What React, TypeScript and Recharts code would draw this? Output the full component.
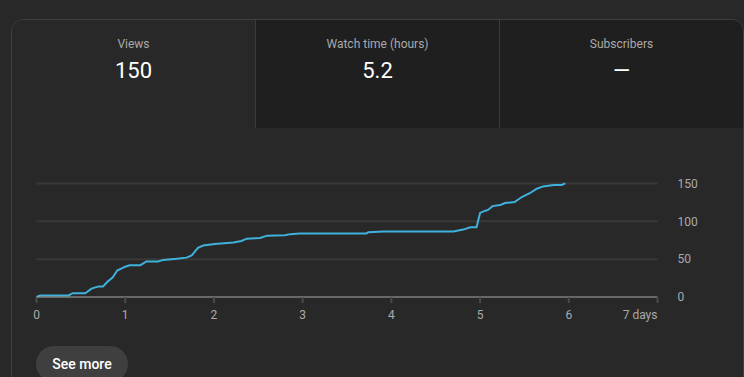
import { LineChart, Line, XAxis, YAxis, CartesianGrid } from "recharts";

// cumulative views (x in days since publish)
const days = [
  0, 0.04, 0.36, 0.41, 0.55, 0.62, 0.7, 0.75, 0.8, 0.86, 0.91, 1.0, 1.05, 1.17,
  1.24, 1.37, 1.43, 1.58, 1.69, 1.75, 1.82, 1.88, 2.01, 2.22, 2.31, 2.37, 2.52,
  2.6, 2.8, 2.86, 2.97, 3.72, 3.74, 3.91, 4.7, 4.81, 4.89, 4.96, 5.0, 5.06, 5.09,
  5.14, 5.23, 5.28, 5.39, 5.47, 5.56, 5.64, 5.71, 5.83, 5.92, 5.96,
];
const views = [
  0, 2, 2, 5, 5, 11, 14, 14, 20, 26, 35, 40, 42, 42,
  47, 47, 49, 50.5, 52, 55, 65, 68, 70, 72, 74, 77, 78,
  81, 81.5, 83, 84, 84, 85.5, 86.5, 86.5, 89, 92, 92, 111, 114, 115,
  120, 121.5, 124, 125.5, 132, 137, 143, 146, 148, 148, 150,
];
const xTicks = [0, 1, 2, 3, 4, 5, 6, 7];
const yTicks = [0, 50, 100, 150];

const metricLabels = ["Views", "Watch time (hours)", "Subscribers"];
const metricValues = ["150", "5.2", "—"];

const data = days.map((d, i) => ({ day: d, views: views[i] }));

const FONT = "Roboto, 'Noto Sans', sans-serif";

function DayTick(props: any) {
  const { x, y, payload } = props;
  const last = payload.value === 7;
  return (
    <text
      x={x}
      y={y}
      dy="0.71em"
      textAnchor={last ? "end" : "middle"}
      fill="#aaaaaa"
      fontSize={12}
      fontFamily={FONT}
    >
      {last ? "7 days" : payload.value}
    </text>
  );
}

export default function App() {
  const tabs = [
    { left: 0, width: 243, bg: "#282828", border: false },
    { left: 243, width: 244, bg: "#1f1f1f", border: true },
    { left: 487, width: 244, bg: "#1f1f1f", border: true },
  ];

  return (
    <div
      style={{
        position: "absolute",
        left: 0,
        top: 0,
        width: 744,
        height: 377,
        background: "#282828",
        overflow: "hidden",
        fontFamily: FONT,
      }}
    >
      {/* card */}
      <div
        style={{
          position: "absolute",
          left: 11,
          top: 19,
          width: 733,
          height: 420,
          boxSizing: "border-box",
          border: "1px solid #3f3f3f",
          borderRadius: 12,
          overflow: "hidden",
          background: "#282828",
        }}
      >
        {tabs.map((t, i) => (
          <div
            key={metricLabels[i]}
            style={{
              position: "absolute",
              left: t.left,
              top: 0,
              width: t.width,
              height: 108,
              boxSizing: "border-box",
              background: t.bg,
              borderLeft: t.border ? "1px solid #3a3a3a" : "none",
              textAlign: "center",
            }}
          >
            <div
              style={{
                position: "absolute",
                left: 0,
                right: 0,
                top: 16,
                lineHeight: "16px",
                fontSize: 12,
                color: "#aaaaaa",
              }}
            >
              {metricLabels[i]}
            </div>
            <div
              style={{
                position: "absolute",
                left: 0,
                right: 0,
                top: 37,
                lineHeight: "28px",
                fontSize: 22,
                color: "#ffffff",
              }}
            >
              {metricValues[i]}
            </div>
          </div>
        ))}
      </div>

      {/* chart */}
      <div style={{ position: "absolute", left: 0, top: 127 }}>
        <LineChart
          width={744}
          height={200}
          data={data}
          margin={{ top: 56.4, right: 26.5, bottom: 0, left: 36.5 }}
        >
          <CartesianGrid
            vertical={false}
            stroke="#383838"
            strokeWidth={2}
          />
          <XAxis
            dataKey="day"
            type="number"
            domain={[0, 7]}
            ticks={xTicks}
            height={30}
            axisLine={{ stroke: "#999999", strokeWidth: 1 }}
            tickLine={{ stroke: "#4a4a4a", strokeWidth: 2 }}
            tickSize={6}
            tickMargin={7}
            tick={<DayTick />}
            interval={0}
          />
          <YAxis
            orientation="right"
            type="number"
            domain={[0, 150]}
            ticks={yTicks}
            width={60}
            axisLine={false}
            tickLine={false}
            tickSize={6}
            tickMargin={14}
            tick={{ fill: "#aaaaaa", fontSize: 12, fontFamily: FONT }}
          />
          <Line
            type="linear"
            dataKey="views"
            stroke="#3fb1dc"
            strokeWidth={2}
            dot={false}
            isAnimationActive={false}
          />
        </LineChart>
      </div>

      {/* button */}
      <div
        style={{
          position: "absolute",
          left: 36,
          top: 346,
          width: 92,
          height: 36,
          borderRadius: 18,
          background: "#3f3f3f",
          color: "#ffffff",
          fontSize: 14,
          fontWeight: 500,
          lineHeight: "36px",
          textAlign: "center",
        }}
      >
        See more
      </div>
    </div>
  );
}
